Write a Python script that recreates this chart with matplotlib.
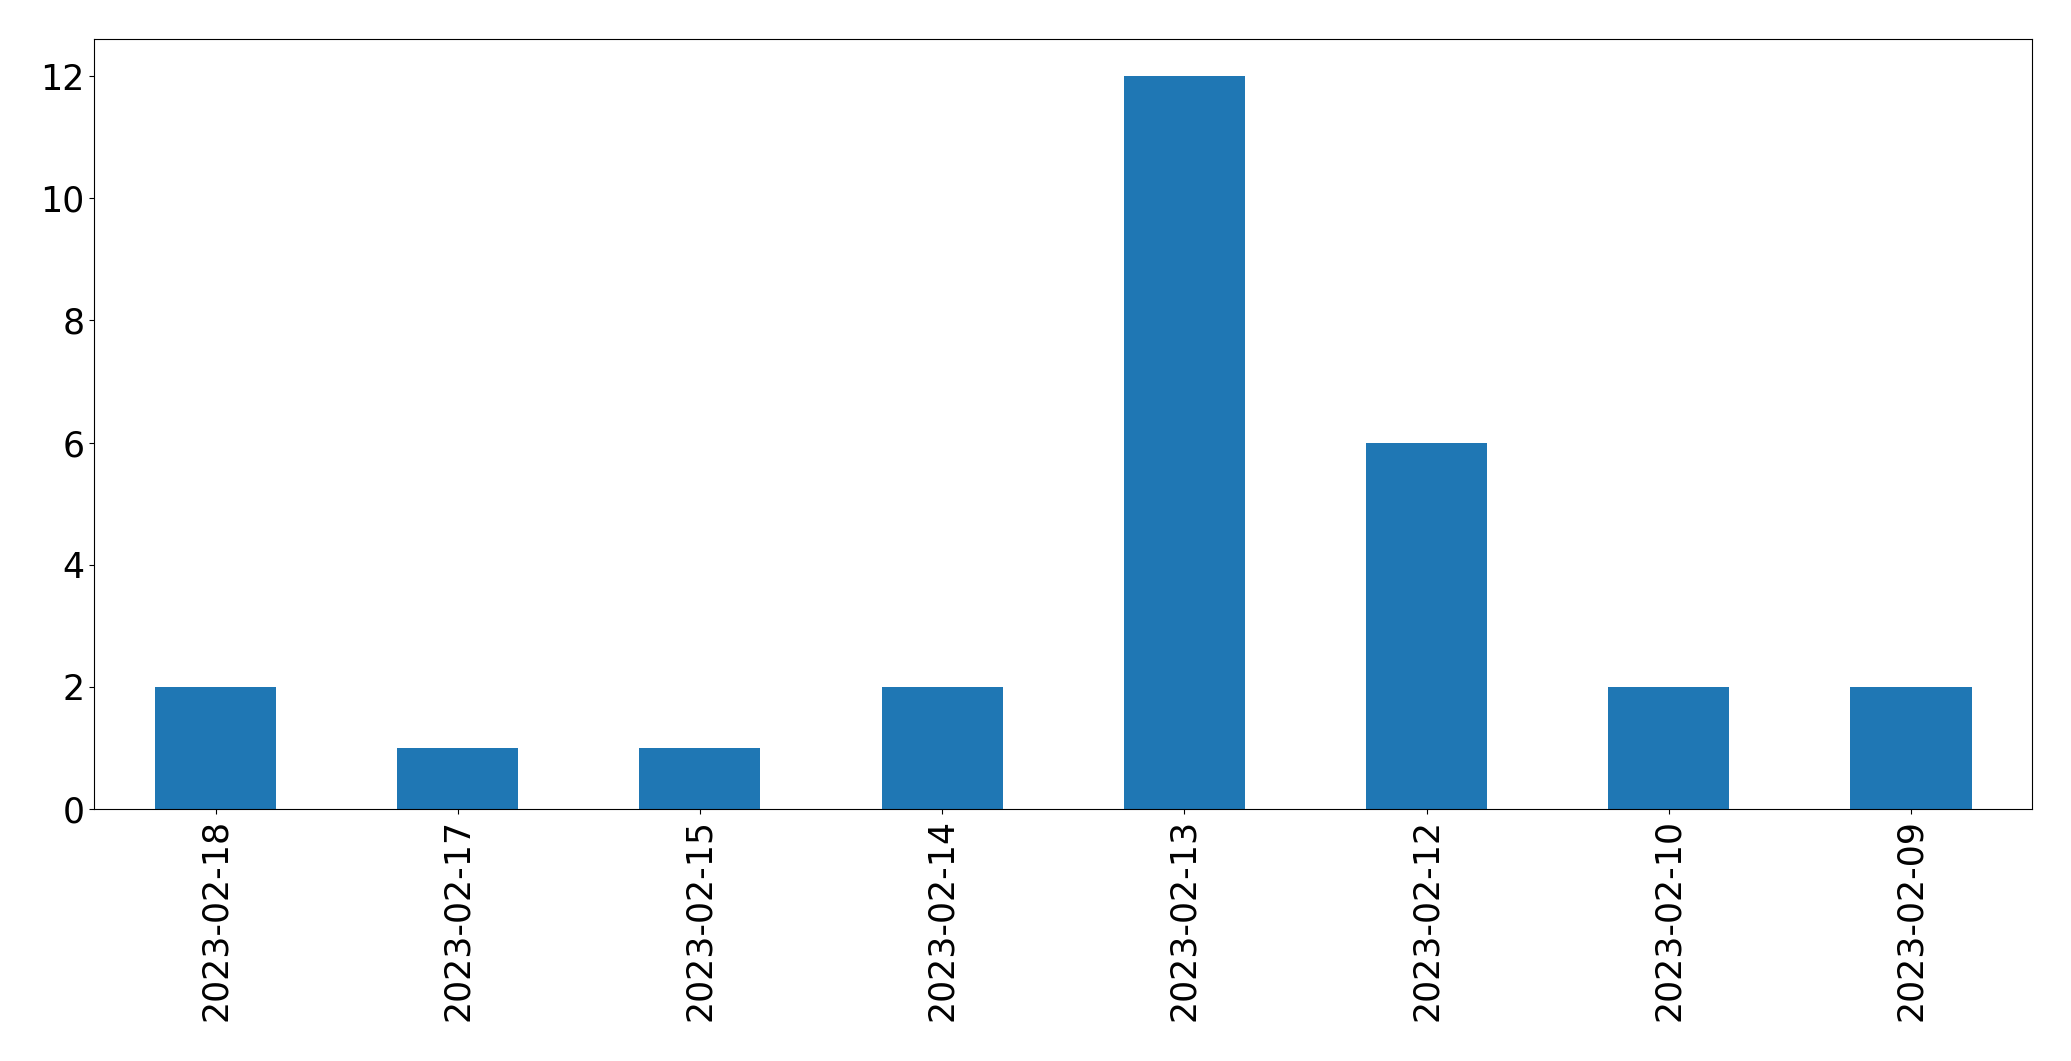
import matplotlib
matplotlib.use("Agg")
import matplotlib.pyplot as plt
import pandas as pd

dates = ["2023-02-18", "2023-02-17", "2023-02-15", "2023-02-14",
         "2023-02-13", "2023-02-12", "2023-02-10", "2023-02-09"]
counts = [2, 1, 1, 2, 12, 6, 2, 2]

series = pd.Series(counts, index=dates)

fig = plt.figure(figsize=(20.71, 10.61), dpi=100)
ax = fig.add_axes([0.0456, 0.2375, 0.9356, 0.7253])
series.plot.bar(ax=ax, color="#1f77b4")
ax.tick_params(axis="both", labelsize=25)

fig.savefig("out.png", dpi=100)
